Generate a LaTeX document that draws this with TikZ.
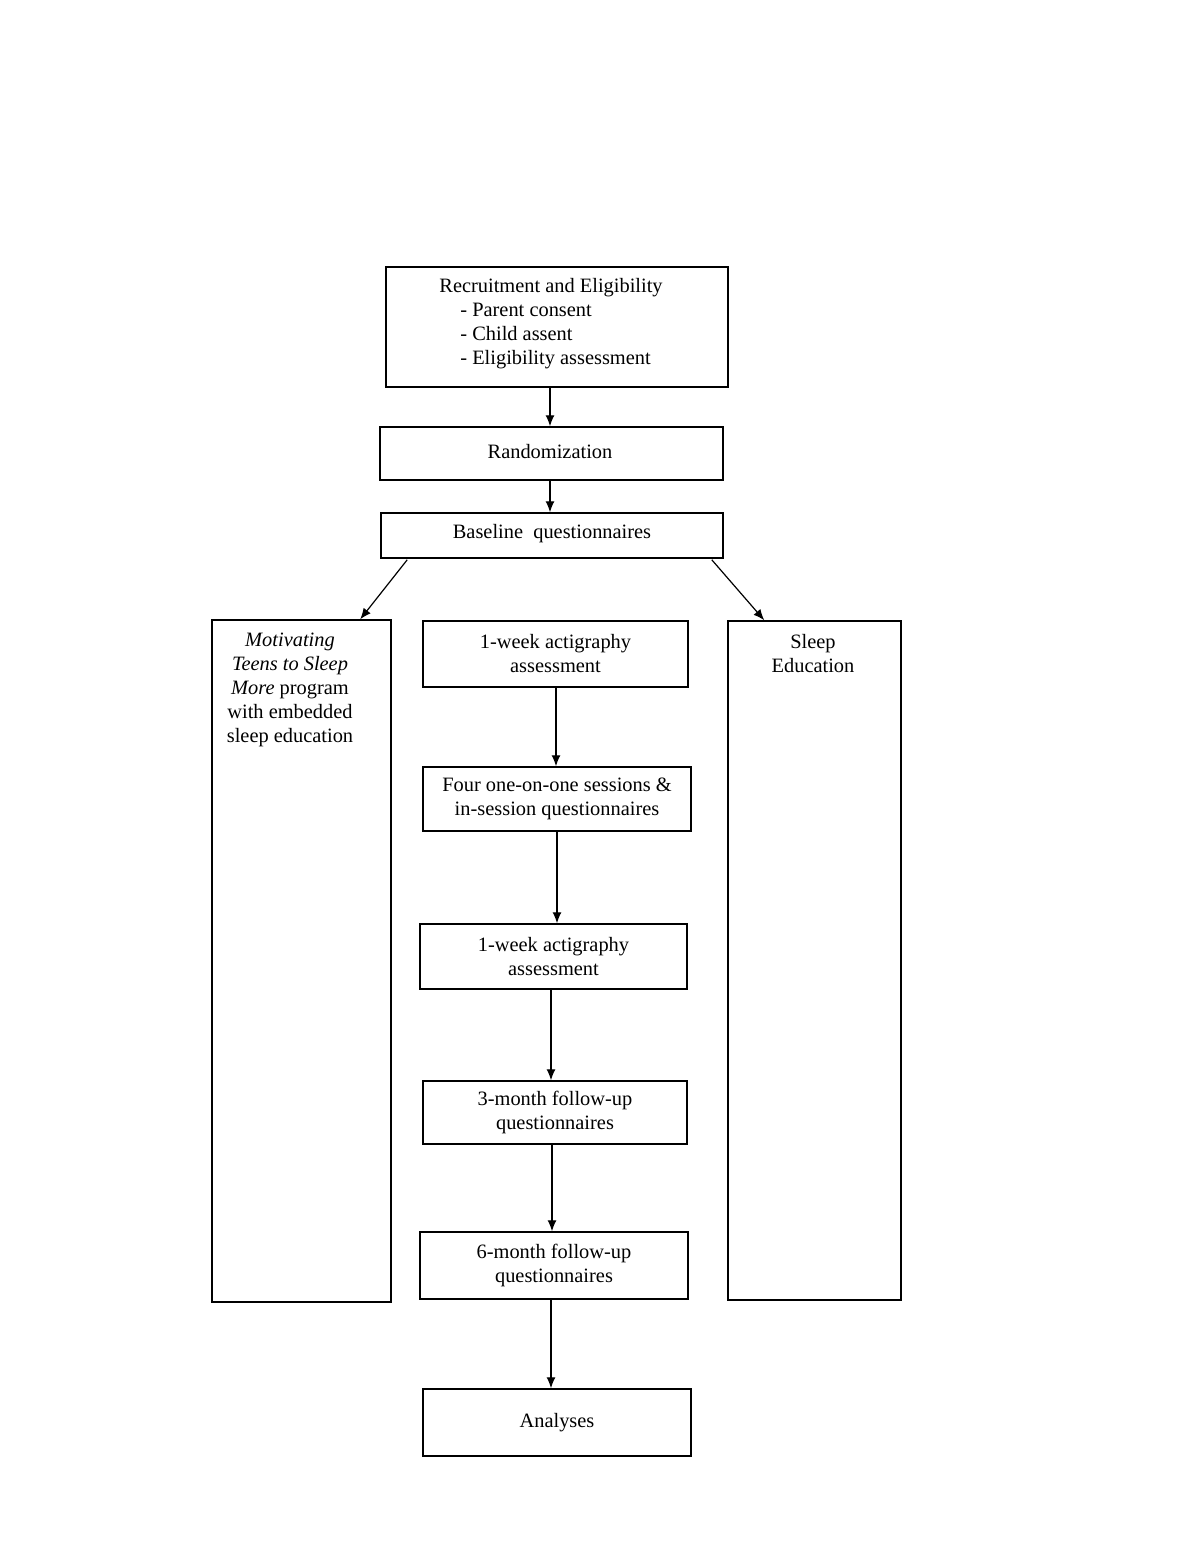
\documentclass[tikz,border=0pt]{standalone}
\usepackage{fontspec}
\setmainfont{Liberation Serif}
\usetikzlibrary{arrows.meta,calc}
\begin{document}
\begin{tikzpicture}[x=0.5pt,y=-0.5pt,
  font=\fontsize{10.2pt}{12pt}\selectfont,
  box/.style={draw, line width=0.75pt, inner sep=0pt, align=center},
  txt/.style={inner sep=0pt},
  arr/.style={-{Latex[length=5.5pt,width=4.5pt]}, line width=0.6pt}]
\useasboundingbox[fill=white] (0,0) rectangle (1200,1553);
% top boxes
\node[box, minimum width=171pt, minimum height=60pt] (rec) at (557,327) {};
\node[txt, anchor=west, align=left] (rectxt) at (439,324) {Recruitment and Eligibility\\
\hspace*{10.5pt}- Parent consent\\
\hspace*{10.5pt}- Child assent\\
\hspace*{10.5pt}- Eligibility assessment};
\node[box, minimum width=171.5pt, minimum height=26.5pt] (rnd) at (551.5,453.5) {};
\node[txt] (rndtxt) at (550,452) {Randomization};
\node[box, minimum width=171pt, minimum height=22.5pt] (base) at (552,535.5) {};
\node[txt] (basetxt) at (552,534) {Baseline\ \ questionnaires};
% side boxes
\node[box, minimum width=89.5pt, minimum height=341pt] (left) at (301.5,961) {};
\node[txt, align=center] (lefttxt) at (290,690) {\textit{Motivating}\\\textit{Teens to Sleep}\\\textit{More} program\\with embedded\\sleep education};
\node[box, minimum width=86.5pt, minimum height=339.5pt] (right) at (814.5,960.5) {};
\node[txt, align=center] (righttxt) at (813,654) {Sleep\\Education};
% middle column
\node[box, minimum width=132.5pt, minimum height=33pt] (wk1) at (555.5,654) {1-week actigraphy\\assessment};
\node[box, minimum width=134pt, minimum height=32pt] (four) at (557,799) {Four one-on-one sessions \&\\in-session questionnaires};
\node[box, minimum width=133.5pt, minimum height=32.5pt] (wk2) at (553.5,956.5) {1-week actigraphy\\assessment};
\node[box, minimum width=132pt, minimum height=31.5pt] (m3) at (555,1112.5) {3-month follow-up\\questionnaires};
\node[box, minimum width=134pt, minimum height=33.5pt] (m6) at (554,1265.5) {6-month follow-up\\questionnaires};
\node[box, minimum width=134pt, minimum height=33.5pt] (ana) at (557,1422.5) {Analyses};
% x positions of vertical connectors
\coordinate (x1) at (550,0);
\coordinate (x2) at (556,0);
\coordinate (x3) at (557,0);
\coordinate (x4) at (551,0);
\coordinate (x5) at (552,0);
% connectors
\draw[arr] (rec.south -| x1) -- (rnd.north -| x1);
\draw[arr] (rnd.south -| x1) -- (base.north -| x1);
\draw[arr] ($(base.south west)+(27,1)$) -- ($(left.north west)+(149,0)$);
\draw[arr] ($(base.south east)+(-12,1)$) -- ($(right.north west)+(37,0)$);
\draw[arr] (wk1.south -| x2) -- (four.north -| x2);
\draw[arr] (four.south -| x3) -- (wk2.north -| x3);
\draw[arr] (wk2.south -| x4) -- (m3.north -| x4);
\draw[arr] (m3.south -| x5) -- (m6.north -| x5);
\draw[arr] (m6.south -| x4) -- (ana.north -| x4);
\end{tikzpicture}
\end{document}
